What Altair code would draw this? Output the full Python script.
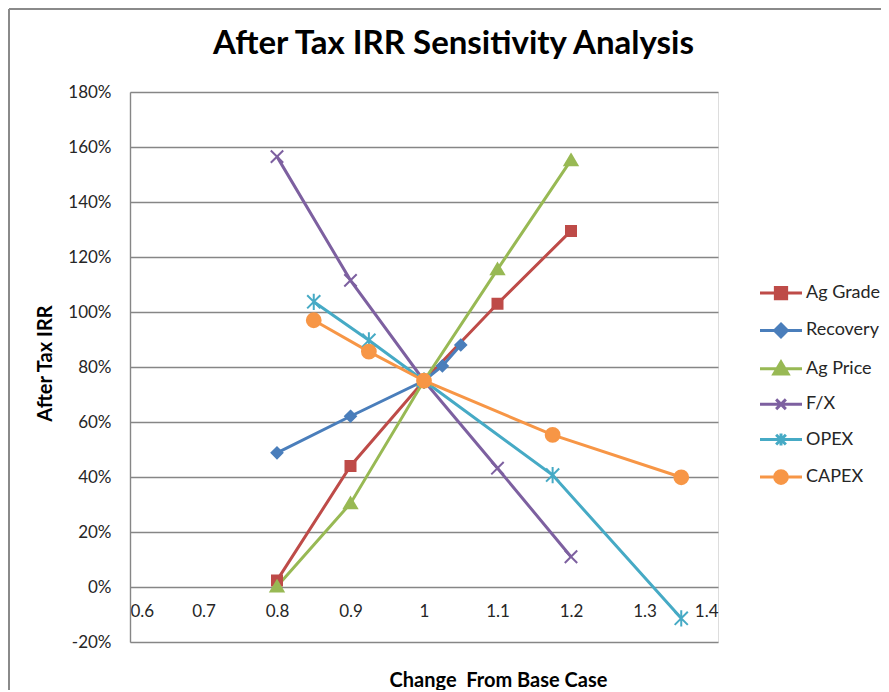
import altair as alt
import pandas as pd

# ---- data ----
series = ["Ag Grade", "Recovery", "Ag Price", "F/X", "OPEX", "CAPEX"]
colors = ["#BE4B48", "#4A7EBB", "#98B954", "#7D60A0", "#46AAC5", "#F79646"]

ag_grade_x = [0.8, 0.9, 1.0, 1.1, 1.2]
ag_grade_y = [0.024, 0.44, 0.75, 1.03, 1.295]
recovery_x = [0.8, 0.9, 1.0, 1.025, 1.05]
recovery_y = [0.488, 0.621, 0.75, 0.804, 0.88]
ag_price_x = [0.8, 0.9, 1.0, 1.1, 1.2]
ag_price_y = [0.002, 0.304, 0.75, 1.155, 1.552]
fx_x = [0.8, 0.9, 1.0, 1.1, 1.2]
fx_y = [1.565, 1.115, 0.75, 0.432, 0.11]
opex_x = [0.85, 0.925, 1.0, 1.175, 1.35]
opex_y = [1.037, 0.897, 0.75, 0.407, -0.114]
capex_x = [0.85, 0.925, 1.0, 1.175, 1.35]
capex_y = [0.97, 0.856, 0.75, 0.553, 0.399]

x_ticks = [0.6, 0.7, 0.8, 0.9, 1.0, 1.1, 1.2, 1.3, 1.4]
y_ticks = [-0.2, 0.0, 0.2, 0.4, 0.6, 0.8, 1.0, 1.2, 1.4, 1.6, 1.8]

# ---- marker styling ----
marker_paths = [
    "M-1,-1H1V1H-1Z",
    "M0,-1L1,0L0,1L-1,0Z",
    "M0,-1L1.1,0.85H-1.1Z",
    "M-1,-1L1,1M-1,1L1,-1",
    "M-1,-1L1,1M-1,1L1,-1M0,-1.25V1.25",
    "circle",
]
marker_sizes = [130, 140, 150, 100, 100, 190]

seg = "M-2.8,0H2.8"
legend_paths = [
    seg + "M-0.75,-0.75H0.75V0.75H-0.75Z",
    seg + "M0,-0.85L0.85,0L0,0.85L-0.85,0Z",
    seg + "M0,-0.9L0.95,0.7H-0.95Z",
    seg + "M-0.65,-0.65L0.65,0.65M-0.65,0.65L0.65,-0.65",
    seg + "M-0.65,-0.65L0.65,0.65M-0.65,0.65L0.65,-0.65M0,-0.8V0.8",
    seg + "M-0.85,0A0.85,0.85,0,1,1,0.85,0A0.85,0.85,0,1,1,-0.85,0Z",
]

rows = []
for name, xs, ys in zip(
    series,
    [ag_grade_x, recovery_x, ag_price_x, fx_x, opex_x, capex_x],
    [ag_grade_y, recovery_y, ag_price_y, fx_y, opex_y, capex_y],
):
    for xv, yv in zip(xs, ys):
        rows.append({"Series": name, "Change": xv, "IRR": yv})
df = pd.DataFrame(rows)

FONT = "Lato"
GRID = "#868686"
TXT = "#262626"

names_js = "[" + ",".join("'" + s + "'" for s in series) + "]"
paths_js = "[" + ",".join("'" + p + "'" for p in legend_paths) + "]"
colors_js = "[" + ",".join("'" + c + "'" for c in colors) + "]"
shape_expr = paths_js + "[indexof(" + names_js + ", datum.value)]"
color_expr = colors_js + "[indexof(" + names_js + ", datum.value)]"

# marker scales list the series in reverse order (same mapping), so that their
# hidden legends are not merged into the line legend
rev_series = series[::-1]
rev_colors = colors[::-1]
rev_paths = marker_paths[::-1]
rev_sizes = marker_sizes[::-1]

x_enc = alt.X(
    "Change:Q",
    scale=alt.Scale(domain=[0.6, 1.4], nice=False, zero=False),
    axis=alt.Axis(
        values=x_ticks, format="~g", orient="bottom", offset=-55,
        domain=False, ticks=False, tickSize=0, grid=False,
        labelPadding=16, labelFont=FONT, labelFontSize=17, labelColor=TXT,
        title="Change\u00a0 From Base Case", titleFont=FONT, titleFontSize=20,
        titleFontWeight="bold", titleColor="black", titleX=368, titleY=99,
        titleAlign="center", titleBaseline="alphabetic",
    ),
)
y_enc = alt.Y(
    "IRR:Q",
    scale=alt.Scale(domain=[-0.2, 1.8], nice=False, zero=False),
    axis=alt.Axis(
        values=y_ticks, labelExpr="round(datum.value*100) + '%'",
        domain=True, domainColor=GRID, domainWidth=1.4,
        ticks=False, tickSize=0, grid=True, gridColor=GRID, gridWidth=1.4,
        labelPadding=19, labelFont=FONT, labelFontSize=17, labelColor=TXT,
        title="After Tax IRR", titleFont=FONT, titleFontSize=20,
        titleFontWeight="bold", titleColor="black", titleX=-85, titleY=271,
        titleAngle=270, titleAlign="center", titleBaseline="middle",
    ),
)

lines = alt.Chart(df).mark_line(strokeWidth=3).encode(
    x=x_enc, y=y_enc,
    color=alt.Color(
        "Series:N", scale=alt.Scale(domain=series, range=colors),
        legend=alt.Legend(
            title=None, orient="none", legendX=642, legendY=192,
            padding=0, symbolOffset=0, symbolSize=225, symbolStrokeWidth=3,
            symbolType=alt.ExprRef(expr=shape_expr),
            symbolFillColor=alt.ExprRef(expr=color_expr),
            symbolStrokeColor=alt.ExprRef(expr=color_expr),
            symbolOpacity=1,
            labelFont=FONT, labelFontSize=18, labelColor=TXT, labelOffset=16,
            labelLimit=300, rowPadding=12.4,
        ),
    ),
)

points = alt.Chart(df).mark_point(filled=True, strokeWidth=2, opacity=1).encode(
    x=x_enc, y=y_enc,
    fill=alt.Fill("Series:N", scale=alt.Scale(domain=rev_series, range=rev_colors), legend=None),
    stroke=alt.Stroke("Series:N", scale=alt.Scale(domain=rev_series, range=rev_colors), legend=None),
    shape=alt.Shape("Series:N", scale=alt.Scale(domain=rev_series, range=rev_paths), legend=None),
    size=alt.Size("Series:N", scale=alt.Scale(domain=rev_series, range=rev_sizes), legend=None),
)

one = alt.Data(values=[{"k": 0}])
frame_top = alt.Chart(one).mark_rule(color="#8a8a8a", strokeWidth=2).encode(
    x=alt.value(-121), x2=alt.value(760), y=alt.value(-83)
)
frame_left = alt.Chart(one).mark_rule(color="#8a8a8a", strokeWidth=2).encode(
    x=alt.value(-121), y=alt.value(-83), y2=alt.value(620)
)

chart = alt.layer(frame_top, frame_left, lines, points).properties(
    width=588,
    height=550,
    padding={"left": 122, "top": 84, "right": 163, "bottom": 48},
    autosize=alt.AutoSizeParams(type="none"),
    title=alt.TitleParams(
        "After Tax IRR Sensitivity Analysis", font=FONT, fontSize=33,
        fontWeight="bold", color="black", anchor="middle", frame="group",
        dx=29.5, baseline="alphabetic", offset=-79,
    ),
).configure_view(stroke=None).configure(background="white")

chart.save("out.html", embed_options={"renderer": "svg", "actions": False})
